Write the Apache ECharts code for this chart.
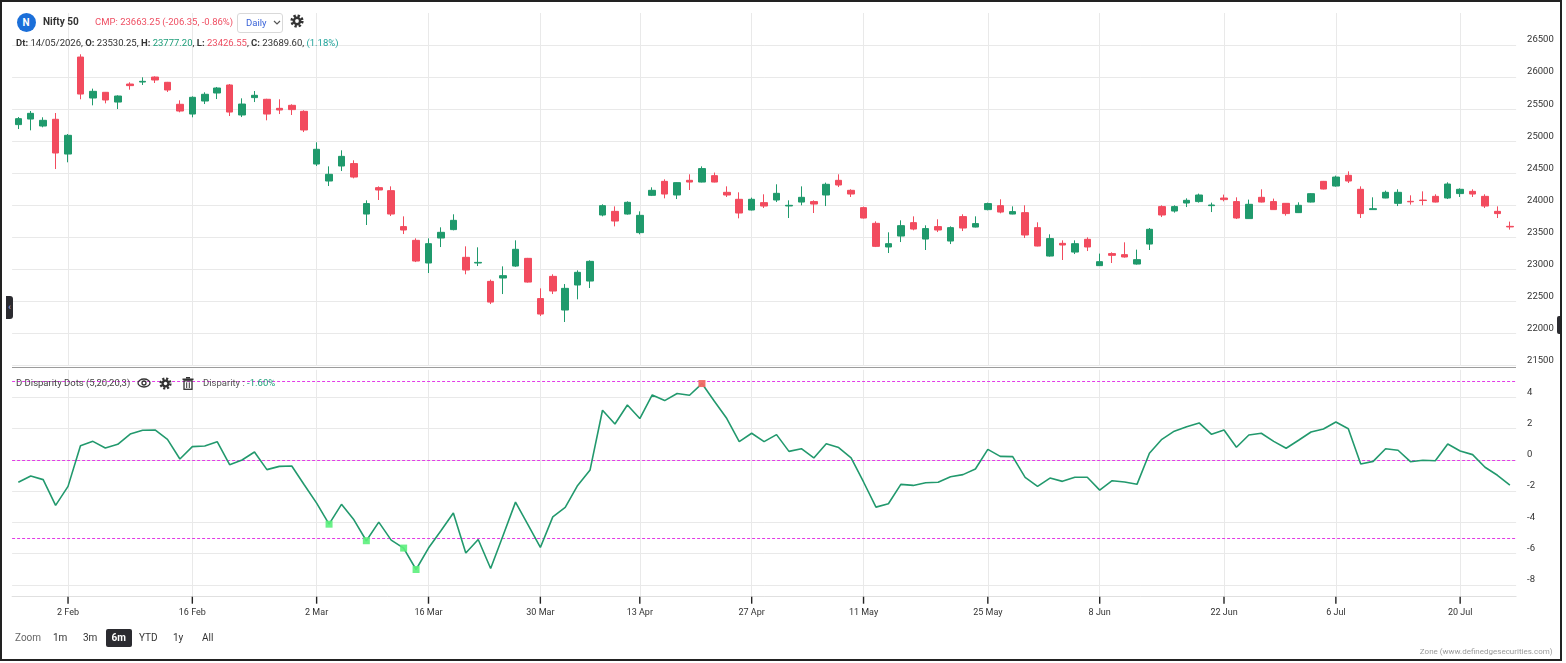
<!DOCTYPE html>
<html><head><meta charset="utf-8">
<script src="https://cdn.jsdelivr.net/npm/echarts@6/dist/echarts.min.js"></script>
<style>
html,body{margin:0;padding:0;background:#fff;}
#wrap{position:relative;width:1566px;height:663px;overflow:hidden;font-family:Roboto,"Noto Sans",sans-serif;color:#333;}
#chart{position:absolute;left:0;top:0;width:1566px;height:663px;}
.ov{position:absolute;white-space:nowrap;line-height:1;}
.b{font-weight:bold;}
</style></head><body>
<div id="wrap">
<div id="chart"></div>

<!-- header -->
<div class="ov" style="left:16.5px;top:13px;width:19px;height:19px;border-radius:50%;background:#1b6fd9;color:#fff;font-weight:bold;font-size:10px;line-height:19px;text-align:center;">N</div>
<div class="ov b" style="left:43px;top:16.5px;font-size:10px;color:#333;">Nifty 50</div>
<div class="ov" style="left:95px;top:16.7px;font-size:9.5px;color:#ef4f63;">CMP: 23663.25 (-206.35, -0.86%)</div>
<div class="ov" style="left:236.5px;top:12.5px;width:46px;height:20.5px;box-sizing:border-box;border:1px solid #d9d9d9;border-radius:3px;background:#fff;"></div>
<div class="ov" style="left:246px;top:18px;font-size:9.5px;color:#3a63d8;">Daily</div>
<svg class="ov" style="left:273px;top:20px;" width="8" height="6"><polyline points="1,1 4,4 7,1" fill="none" stroke="#555" stroke-width="1.2"/></svg>
<svg class="ov" style="left:290px;top:14px;" width="14" height="14"><circle cx="7" cy="7" r="5.3" fill="none" stroke="#333" stroke-width="2.6" stroke-dasharray="2.3 1.86"/><circle cx="7" cy="7" r="4.4" fill="#333"/><circle cx="7" cy="7" r="1.9" fill="#fff"/></svg>
<div class="ov" style="left:16px;top:38px;font-size:9.5px;color:#333;"><span class="b">Dt:</span> 14/05/2026, <span class="b">O:</span> 23530.25, <span class="b">H:</span> <span style="color:#1e9e7a">23777.20</span>, <span class="b">L:</span> <span style="color:#ef4f63">23426.55</span>, <span class="b">C:</span> 23689.60, <span style="color:#1fa39a">(1.18%)</span></div>

<!-- indicator header -->
<div class="ov" style="left:16px;top:378.3px;font-size:9.5px;color:#444;">D Disparity Dots (5,20,20,3)</div>
<svg class="ov" style="left:137px;top:378px;" width="14" height="10"><ellipse cx="7" cy="5" rx="6" ry="4" fill="none" stroke="#333" stroke-width="1.3"/><circle cx="7" cy="5" r="2" fill="none" stroke="#333" stroke-width="1.3"/></svg>
<svg class="ov" style="left:158.5px;top:376.5px;" width="13" height="13"><circle cx="6.5" cy="6.5" r="4.9" fill="none" stroke="#333" stroke-width="2.4" stroke-dasharray="2.1 1.75"/><circle cx="6.5" cy="6.5" r="4" fill="#333"/><circle cx="6.5" cy="6.5" r="1.7" fill="#fff"/></svg>
<svg class="ov" style="left:181.5px;top:377px;" width="12" height="13"><rect x="0.5" y="1.5" width="11" height="1.6" fill="#333"/><rect x="4" y="0" width="4" height="1.6" fill="#333"/><rect x="2" y="3.8" width="8" height="8.5" fill="none" stroke="#333" stroke-width="1.3"/><line x1="4.7" y1="5.3" x2="4.7" y2="11" stroke="#333" stroke-width="1"/><line x1="7.3" y1="5.3" x2="7.3" y2="11" stroke="#333" stroke-width="1"/></svg>
<div class="ov" style="left:203px;top:378.3px;font-size:9.5px;color:#555;">Disparity : <span style="color:#1e9e7a;">-1.60%</span></div>

<!-- separator -->
<div class="ov" style="left:12px;top:366.5px;width:1504px;height:1px;background:#9c9c9c;"></div>

<!-- zoom bar -->
<div class="ov" style="left:15px;top:632.7px;font-size:10px;color:#666;">Zoom</div>
<div class="ov" style="left:53px;top:632.7px;font-size:10px;color:#333;">1m</div>
<div class="ov" style="left:83px;top:632.7px;font-size:10px;color:#333;">3m</div>
<div class="ov" style="left:106px;top:629px;width:25.5px;height:18px;border-radius:2px;background:#2b2b30;color:#fff;font-weight:bold;font-size:10px;line-height:18px;text-align:center;">6m</div>
<div class="ov" style="left:139px;top:632.7px;font-size:10px;color:#333;">YTD</div>
<div class="ov" style="left:173px;top:632.7px;font-size:10px;color:#333;">1y</div>
<div class="ov" style="left:202px;top:632.7px;font-size:10px;color:#333;">All</div>
<div class="ov" style="right:13.5px;top:647.8px;font-size:8px;color:#9a9a9a;">Zone (www.definedgesecurities.com)</div>

<!-- side tabs and frame -->
<div class="ov" style="left:6px;top:296px;width:7px;height:23px;background:#2b2b30;border-radius:0 3px 3px 0;color:#b9b9ff;font-size:9px;line-height:23px;text-align:center;">‹</div>
<div class="ov" style="left:1557px;top:316px;width:5px;height:18px;background:#2b2b30;border-radius:2px 0 0 2px;"></div>
<div class="ov" style="left:0;top:0;width:1562px;height:661px;box-sizing:border-box;border:2px solid #222;pointer-events:none;"></div>
</div>

<script>
// ---- data ----
const open  = [25259,25346,25237,25342,24800,26313,25674,25763,25611,25892,
               25923,26001,25919,25576,25424,25627,25752,25877,25409,25680,
               25654,25513,25560,25466,24644,24379,24613,24651,23864,24276,
               24229,23668,23454,23100,23490,23621,23189,23100,22814,22866,
               23053,23173,22545,22892,22367,22757,22819,23849,23906,23864,
               23574,24156,24374,24161,24390,24363,24463,24203,24094,23927,
               24042,24083,23990,24051,24058,24161,24390,24234,23964,23719,
               23350,23521,23730,23474,23668,23443,23824,23661,23933,23995,
               23864,23886,23652,23209,23407,23271,23470,23059,23247,23231,
               23084,23396,23980,23911,24036,24058,23995,24114,24058,23793,
               24125,24058,24031,23886,24051,24374,24301,24468,24250,23933,
               24114,24031,24062,24082,24140,24114,24183,24218,24140,23906,
               23672];
const close = [25352,25435,25326,24816,25092,25736,25778,25643,25705,25867,
               25934,25955,25799,25471,25685,25732,25830,25455,25580,25716,
               25424,25487,25493,25175,24874,24484,24764,24441,24027,24239,
               23864,23615,23131,23402,23579,23766,22991,23110,22491,22903,
               23314,22803,22304,22663,22705,22955,23126,23995,23755,24047,
               23844,24234,24176,24354,24363,24573,24363,24161,23880,24094,
               23989,24187,24000,24125,24020,24328,24317,24176,23802,23360,
               23402,23683,23630,23637,23615,23652,23646,23715,24027,23895,
               23902,23537,23365,23481,23381,23402,23350,23121,23220,23194,
               23153,23626,23849,23980,24078,24161,24005,24089,23802,24016,
               24051,23933,23871,24000,24182,24254,24441,24379,23871,23948,
               24203,24203,24055,24075,24051,24332,24250,24176,23989,23871,
               23663];
const high  = [25377,25471,25373,25440,25112,26356,25820,25768,25716,25919,
               25997,26012,25925,25638,25700,25763,25846,25892,25669,25783,
               25662,25654,25576,25482,24983,24608,24858,24702,24078,24296,
               24296,23828,23485,23485,23657,23860,23360,23345,22841,23048,
               23454,23180,22705,22924,22772,22986,23142,24016,23984,24062,
               23906,24281,24406,24360,24484,24608,24511,24296,24203,24120,
               24172,24328,24078,24296,24078,24354,24484,24250,23980,23750,
               23579,23766,23828,23688,23782,23672,23860,23828,24042,24094,
               23984,24000,23735,23548,23454,23454,23501,23247,23267,23423,
               23309,23646,24000,24000,24109,24183,24042,24167,24125,24089,
               24250,24105,24035,24047,24190,24380,24463,24530,24296,24125,
               24229,24250,24156,24218,24172,24359,24265,24250,24172,23984,
               23746];
const low   = [25190,25170,25217,24566,24671,25654,25560,25591,25502,25804,
               25877,25908,25768,25451,25373,25580,25658,25393,25377,25611,
               25326,25424,25409,25143,24613,24301,24535,24421,23693,24083,
               23833,23552,23115,22944,23349,23610,22924,23053,22460,22616,
               23040,22795,22273,22616,22180,22534,22710,23828,23672,23855,
               23548,24145,24109,24098,24239,24358,24358,24130,23797,23920,
               23958,24051,23802,24000,23880,23989,24285,24130,23795,23349,
               23256,23427,23610,23303,23583,23396,23599,23655,23922,23875,
               23860,23490,23360,23200,23147,23240,23287,23055,23100,23184,
               23075,23303,23817,23886,23973,24042,23895,24062,23786,23790,
               24045,23930,23839,23880,24045,24248,24291,24348,23802,23930,
               24110,23989,24011,24000,24045,24098,24130,24130,23958,23802,
               23621];
const disparity = [-1.44,-1.04,-1.27,-2.92,-1.70,0.90,1.18,0.76,0.99,1.65,
                   1.89,1.91,1.31,0.05,0.84,0.88,1.16,-0.31,-0.01,0.50,
                   -0.63,-0.42,-0.40,-1.60,-2.77,-4.12,-2.85,-3.84,-5.18,-3.99,
                   -5.14,-5.65,-7.02,-5.65,-4.54,-3.41,-5.97,-5.10,-6.96,-4.85,
                   -2.71,-4.15,-5.61,-3.65,-3.05,-1.64,-0.65,3.17,2.29,3.51,
                   2.64,4.15,3.79,4.24,4.13,4.88,3.75,2.64,1.16,1.70,
                   1.16,1.61,0.54,0.71,0.12,1.03,0.78,0.13,-1.42,-3.03,
                   -2.81,-1.57,-1.64,-1.47,-1.44,-1.08,-0.95,-0.59,0.67,0.22,
                   0.20,-1.12,-1.70,-1.17,-1.38,-1.12,-1.12,-1.94,-1.34,-1.42,
                   -1.57,0.42,1.31,1.83,2.12,2.36,1.63,1.91,0.80,1.59,
                   1.70,1.18,0.74,1.25,1.78,1.97,2.42,1.99,-0.27,-0.10,
                   0.71,0.61,-0.12,-0.03,-0.06,1.01,0.56,0.33,-0.48,-0.99,
                   -1.62];
const buyDots  = [25, 28, 31, 32];
const sellDots = [55];
const levels   = [5, 0, -5];
const tickIndex  = [4, 14, 24, 33, 42, 50, 59, 68, 78, 87, 97, 106, 116];
const tickLabels = ['2 Feb','16 Feb','2 Mar','16 Mar','30 Mar','13 Apr','27 Apr','11 May','25 May','8 Jun','22 Jun','6 Jul','20 Jul'];

// ---- chart ----
const GREEN = '#1f9a6c', RED = '#f24b5e', GRID = '#e9e9e9';
const FONT = 'Roboto, "Noto Sans", sans-serif';
const IND_MIN = -8.73, IND_MAX = 5.76;
const categories = open.map((_, i) => String(i));
const ohlc = open.map((o, i) => [o, close[i], low[i], high[i]]);
const isTick = (i) => tickIndex.indexOf(i) >= 0;
const labelFor = (i) => { const k = tickIndex.indexOf(i); return k >= 0 ? tickLabels[k] : ''; };

const chart = echarts.init(document.getElementById('chart'), null, {renderer: 'canvas'});
chart.setOption({
  animation: false,
  grid: [
    {left: 12.1, right: 49.9, top: 13, height: 352.6},
    {left: 12.1, right: 49.9, top: 369.8, height: 226.4}
  ],
  xAxis: [
    {type: 'category', gridIndex: 0, data: categories, boundaryGap: true, position: 'bottom',
     axisLine: {show: false, onZero: false}, axisTick: {show: false}, axisLabel: {show: false},
     splitLine: {show: true, interval: (i) => isTick(i), alignWithLabel: true, lineStyle: {color: GRID, width: 1}}},
    {type: 'category', gridIndex: 1, data: categories, boundaryGap: true, position: 'bottom',
     axisLine: {show: true, onZero: false, lineStyle: {color: '#e0e0e0', width: 1}},
     axisTick: {show: false},
     axisLabel: {show: true, interval: (i) => isTick(i), formatter: (v, i) => labelFor(i), color: '#333', fontSize: 9, margin: 12, fontFamily: FONT},
     splitLine: {show: true, interval: (i) => isTick(i), alignWithLabel: true, lineStyle: {color: GRID, width: 1}}}
  ],
  yAxis: [
    {type: 'value', gridIndex: 0, position: 'right', min: 21500, max: 27000, interval: 500,
     axisLine: {show: false}, axisTick: {show: false},
     axisLabel: {showMaxLabel: false, formatter: (v) => String(v), color: '#333', fontSize: 9.5, margin: 11, verticalAlign: 'bottom', fontFamily: FONT},
     splitLine: {show: true, showMaxLine: false, lineStyle: {color: GRID, width: 1}}},
    {type: 'value', gridIndex: 1, position: 'right', min: IND_MIN, max: IND_MAX, splitNumber: 7,
     axisLine: {show: false}, axisTick: {show: false},
     axisLabel: {showMinLabel: false, showMaxLabel: false, formatter: (v) => String(v), color: '#333', fontSize: 9.5, margin: 11, verticalAlign: 'bottom', fontFamily: FONT},
     splitLine: {show: true, showMinLine: false, showMaxLine: false, lineStyle: {color: GRID, width: 1}}}
  ],
  series: [
    {type: 'candlestick', name: 'Nifty 50', xAxisIndex: 0, yAxisIndex: 0, data: ohlc, barWidth: 7,
     itemStyle: {color: GREEN, color0: RED, borderColor: GREEN, borderColor0: RED, borderWidth: 1}},
    {type: 'line', name: 'Disparity', xAxisIndex: 1, yAxisIndex: 1, data: disparity, symbol: 'none', z: 3,
     lineStyle: {color: '#22996d', width: 1.6},
     markLine: {silent: true, symbol: 'none', label: {show: false}, z: 2,
       lineStyle: {color: '#e23de6', type: [3, 2], width: 1},
       data: levels.map(v => ({yAxis: v}))}},
    {type: 'scatter', name: 'Buy dots', xAxisIndex: 1, yAxisIndex: 1, symbol: 'rect', symbolSize: 7, z: 4,
     data: buyDots.map(i => [i, disparity[i]]), itemStyle: {color: '#5cf07c', opacity: 0.9}},
    {type: 'scatter', name: 'Sell dots', xAxisIndex: 1, yAxisIndex: 1, symbol: 'rect', symbolSize: 7, z: 4,
     data: sellDots.map(i => [i, disparity[i]]), itemStyle: {color: '#f06a64', opacity: 0.95}},
    {type: 'scatter', name: 'axis ticks', xAxisIndex: 1, yAxisIndex: 1, silent: true, clip: false, z: 10,
     symbol: 'rect', symbolSize: [1.4, 7], symbolOffset: [0, 4],
     data: tickIndex.map(i => [i, IND_MIN]), itemStyle: {color: '#222', opacity: 1}}
  ]
});
</script>
</body></html>
